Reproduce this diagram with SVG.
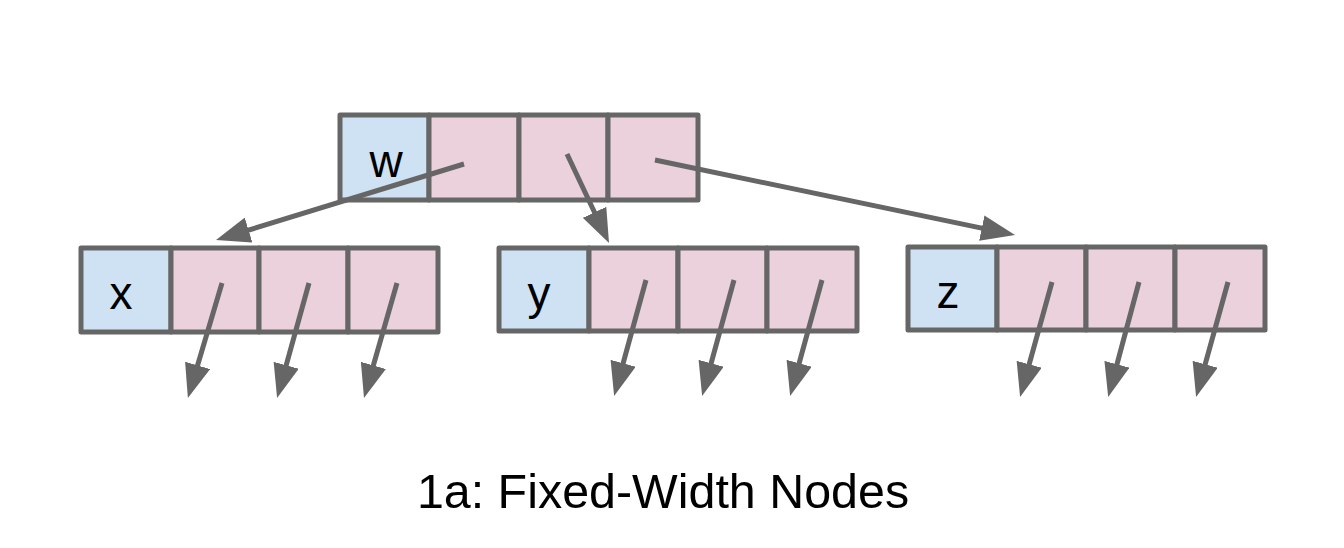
<svg xmlns="http://www.w3.org/2000/svg" width="1344" height="548" viewBox="0 0 1344 548">
<style>
.key{fill:#cfe2f3;stroke:#666666;stroke-width:5;stroke-linejoin:round}
.ptr{fill:#ead1dc;stroke:#666666;stroke-width:5;stroke-linejoin:round}
.lbl{font-family:"Liberation Sans",Arial,sans-serif;font-size:46px;fill:#000;text-anchor:middle}
.cap{font-family:"Liberation Sans",Arial,sans-serif;font-size:48.4px;fill:#000;text-anchor:middle}
.arr{stroke:#666666;stroke-width:5;fill:none;marker-end:url(#ah)}
</style>
<defs>
<marker id="ah" markerUnits="userSpaceOnUse" viewBox="0 0 34 26" markerWidth="34" markerHeight="26" refX="22" refY="13" orient="auto">
<path d="M0,0 L34,13 L0,26 z" fill="#666666"/>
</marker>
</defs>
<rect width="1344" height="548" fill="#ffffff"/>
<g id="node-w">
<rect class="key" x="340" y="115" width="89" height="85"/>
<rect class="ptr" x="429" y="115" width="90" height="85"/>
<rect class="ptr" x="519" y="115" width="89" height="85"/>
<rect class="ptr" x="608" y="115" width="90" height="85"/>
<text class="lbl" x="386" y="177">w</text>
</g>
<g id="node-x">
<rect class="key" x="81" y="248" width="90" height="84"/>
<rect class="ptr" x="171" y="248" width="88" height="84"/>
<rect class="ptr" x="259" y="248" width="89" height="84"/>
<rect class="ptr" x="348" y="248" width="90" height="84"/>
<text class="lbl" x="121" y="309">x</text>
</g>
<g id="node-y">
<rect class="key" x="499" y="248" width="90" height="83"/>
<rect class="ptr" x="589" y="248" width="89" height="83"/>
<rect class="ptr" x="678" y="248" width="89" height="83"/>
<rect class="ptr" x="767" y="248" width="90" height="83"/>
<text class="lbl" x="539" y="309">y</text>
</g>
<g id="node-z">
<rect class="key" x="908" y="247" width="89" height="83"/>
<rect class="ptr" x="997" y="247" width="89" height="83"/>
<rect class="ptr" x="1086" y="247" width="89" height="83"/>
<rect class="ptr" x="1175" y="247" width="90" height="83"/>
<text class="lbl" x="948" y="308">z</text>
</g>
<g id="connectors">
<line class="arr" x1="464" y1="164" x2="227.5" y2="236.5"/>
<line class="arr" x1="567" y1="154" x2="603.9" y2="232.2"/>
<line class="arr" x1="655" y1="160" x2="1003.3" y2="232.6"/>
<line class="arr" x1="222" y1="283" x2="191.3" y2="386.5"/>
<line class="arr" x1="309" y1="283" x2="280.3" y2="386.5"/>
<line class="arr" x1="397" y1="283" x2="367.3" y2="386.5"/>
<line class="arr" x1="646" y1="280" x2="617.3" y2="384.5"/>
<line class="arr" x1="734" y1="280" x2="705.3" y2="384.5"/>
<line class="arr" x1="822" y1="280" x2="793.3" y2="384.5"/>
<line class="arr" x1="1052" y1="282" x2="1023.3" y2="385.5"/>
<line class="arr" x1="1139" y1="282" x2="1111.3" y2="385.5"/>
<line class="arr" x1="1228" y1="282" x2="1199.3" y2="385.5"/>
</g>
<text class="cap" x="663" y="508">1a: Fixed-Width Nodes</text>
</svg>
